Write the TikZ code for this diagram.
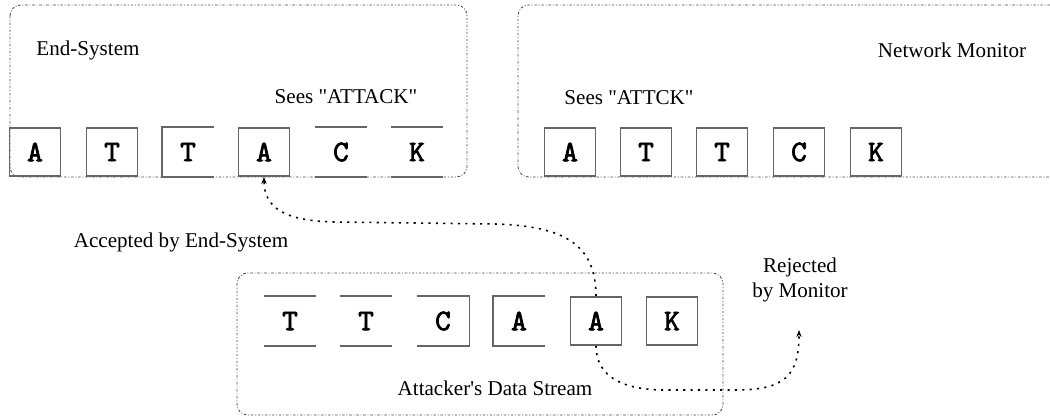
\documentclass[tikz,border=0pt]{standalone}
\usepackage{fontspec}
\setmainfont{Liberation Serif}[Ligatures=TeXOff]
\newfontfamily\cellfont{lmmono10-regular.otf}[FakeBold=2.5]
\usetikzlibrary{arrows.meta}

\tikzset{
    cell/.style={draw=black!60, line width=0.9pt, inner sep=0pt,
        minimum width=1.02cm, minimum height=0.96cm,
        font=\cellfont\fontsize{17}{17}\selectfont},
    bare/.style={cell, draw=none},
    edge/.style={draw=black!60, line width=0.9pt},
    frame/.style={draw=black!70, line width=0.5pt, rounded corners=6pt,
        dash pattern=on 1.5pt off 1pt on 0.5pt off 1pt},
    flow/.style={line width=0.9pt, dash pattern=on 1.2pt off 3pt,
        -{Stealth[length=4pt,width=3pt]}},
}

\begin{document}
\begin{tikzpicture}[x=0.02cm, y=-0.02cm]
    \useasboundingbox (0,0) rectangle (1050,418);
    \fontsize{12}{14}\selectfont

    \draw[frame] (10,5) rectangle (467,177);
    \draw[frame] (1050,5) -- (518,5) -- (518,177) -- (1050,177);
    \draw[frame] (237,273) rectangle (723,415);

    \node (es)  at (88,50)   {End-System};
    \node (esv) at (346,97)  {Sees "ATTACK"};
    \node (nm)  at (952,50)  {Network Monitor};
    \node (nmv) at (629,98)  {Sees "ATTCK"};
    \node (acc) at (181,242) {Accepted by End-System};
    \node (rej) at (800,280) [align=center] {Rejected\\by Monitor};
    \node (ads) at (495,388) {Attacker's Data Stream};

    \node[cell] (e1) at (35,152)  {A};
    \node[cell] (e2) at (112,152) {T};
    \node[bare] (e3) at (188,152) {T};
    \node[cell] (e4) at (264,152) {A};
    \node[bare] (e5) at (341,152) {C};
    \node[bare] (e6) at (417,152) {K};

    \node[cell] (m1) at (570,152) {A};
    \node[cell] (m2) at (646,152) {T};
    \node[cell] (m3) at (722,152) {T};
    \node[cell] (m4) at (799,152) {C};
    \node[cell] (m5) at (876,152) {K};

    \node[bare] (s1) at (290,321) {T};
    \node[bare] (s2) at (366,321) {T};
    \node[bare] (s3) at (443,321) {C};
    \node[bare] (s4) at (519,321) {A};
    \node[cell] (s5) at (596,321) {A};
    \node[cell] (s6) at (672,321) {K};

    \foreach \c in {e5,e6,s1,s2}
        \draw[edge] (\c.north west) -- (\c.north east) (\c.south west) -- (\c.south east);
    \foreach \c in {e3,s4}
        \draw[edge] (\c.north east) -- (\c.north west) -- (\c.south west) -- (\c.south east);
    \draw[edge] (s3.north west) -- (s3.north east) -- (s3.south east) -- (s3.south west);

    \coordinate (drop) at (799,330);
    \draw[flow] (s5.north) .. controls (596,245) and (565,226) .. (495,224)
        -- (335,222) .. controls (285,221) and (264,208) .. (e4.south);
    \draw[flow] (s5.south) .. controls (596,378) and (625,390) .. (665,390)
        -- (735,390) .. controls (785,390) and (799,376) .. (drop);
\end{tikzpicture}
\end{document}
